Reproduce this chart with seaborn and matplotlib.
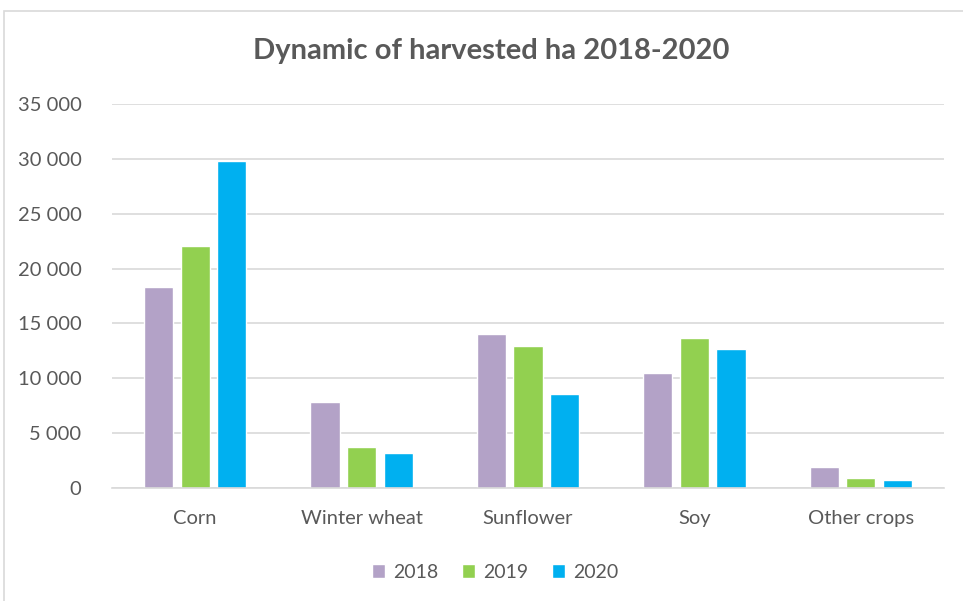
import numpy as np
import pandas as pd
import matplotlib.pyplot as plt
from matplotlib.patches import Rectangle
from matplotlib.ticker import FuncFormatter
import seaborn as sns

# Data
crops = ["Corn", "Winter wheat", "Sunflower", "Soy", "Other crops"]
years = ["2018", "2019", "2020"]
ha_2018 = [18350, 7800, 14000, 10450, 1950]
ha_2019 = [22100, 3700, 12950, 13650, 900]
ha_2020 = [29850, 3150, 8550, 12700, 700]
colors = ["#B3A2C7", "#92D050", "#00B0F0"]

df = pd.DataFrame({
    "crop": crops * 3,
    "year": [y for y in years for _ in crops],
    "ha": ha_2018 + ha_2019 + ha_2020,
})

sns.set_theme(style="white")
plt.rcParams['font.family'] = ['Lato', 'DejaVu Sans']

fig = plt.figure(figsize=(9.63, 6.01), dpi=100)
ax = fig.add_axes([112 / 963, (601 - 488) / 601, (944 - 112) / 963, (488 - 104) / 601])

sns.barplot(data=df, x="crop", y="ha", hue="year", palette=colors, saturation=1,
            width=0.66, gap=0.2, ax=ax, legend=True)

ax.set_ylim(0, 35000)
ax.set_yticks(np.arange(0, 35001, 5000))
ax.yaxis.set_major_formatter(FuncFormatter(lambda v, p: f"{int(v):,}".replace(",", " ")))
ax.grid(axis="y", color="#D9D9D9", linewidth=1.2)
ax.set_axisbelow(True)
for s in ["top", "right", "left"]:
    ax.spines[s].set_visible(False)
ax.spines["bottom"].set_color("#D9D9D9")
ax.spines["bottom"].set_linewidth(1.2)
ax.set_xlabel("")
ax.set_ylabel("")
ax.tick_params(axis="both", length=0, labelsize=14.5, colors="#595959")
ax.tick_params(axis="y", pad=22)
ax.tick_params(axis="x", pad=16)

fig.text(491 / 963, 0.915, "Dynamic of harvested ha 2018-2020", ha="center", va="center",
         fontsize=21, fontweight="bold", color="#595959")

handles, labels = ax.get_legend_handles_labels()
ax.get_legend().remove()
fig.legend(handles, labels, loc="center", bbox_to_anchor=(495 / 963, 1 - 572 / 601), ncol=3,
           frameon=False, fontsize=14, handlelength=0.7, handleheight=0.7,
           columnspacing=1.2, handletextpad=0.4, labelcolor="#595959")

fig.patches.append(Rectangle((4 / 963, -0.01), 1.0, 1 - 11 / 601 + 0.01,
                             transform=fig.transFigure, fill=False,
                             edgecolor="#D9D9D9", linewidth=1.2))

fig.savefig("out.png", dpi=100)
